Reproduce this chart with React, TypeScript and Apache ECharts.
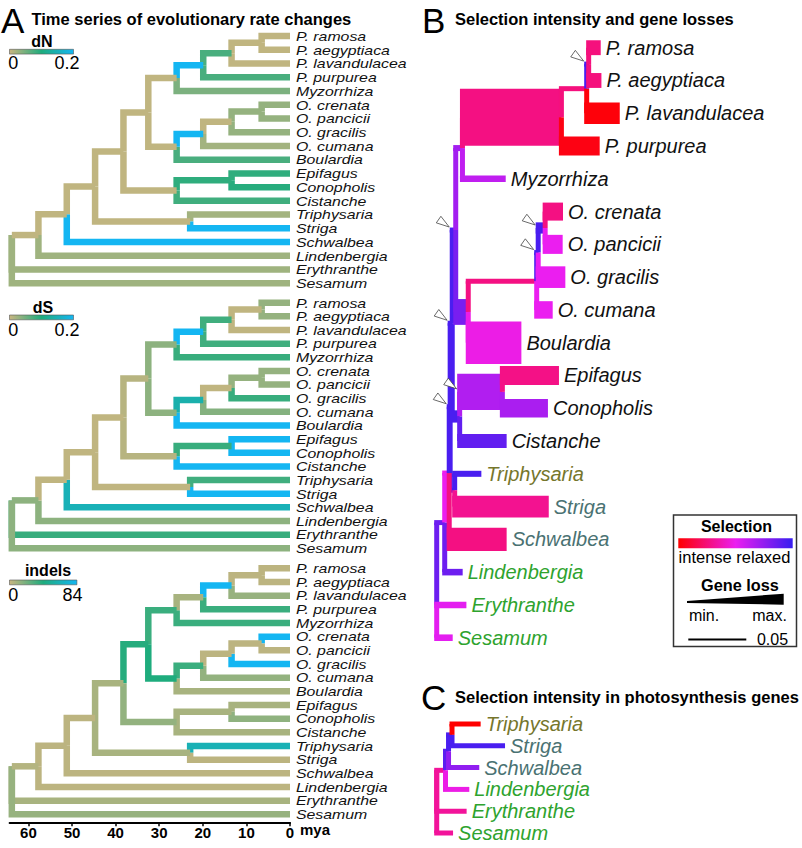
import React, { useEffect, useRef } from "react";
import * as echarts from "echarts";

const FONT = "'Liberation Sans', Arial, Helvetica, sans-serif";

// ---------------- Panel A : time tree ----------------
const leafNames = [
  "P. ramosa", "P. aegyptiaca", "P. lavandulacea", "P. purpurea", "Myzorrhiza",
  "O. crenata", "O. pancicii", "O. gracilis", "O. cumana", "Boulardia",
  "Epifagus", "Conopholis", "Cistanche", "Triphysaria", "Striga",
  "Schwalbea", "Lindenbergia", "Erythranthe", "Sesamum",
];
const cladeNames = [
  "n1", "n2", "n3", "n4", "n5", "n6", "n7", "n8", "n9",
  "n10", "n11", "n12", "n13", "n14", "n15", "n16", "root",
];
const cladeChildren = [
  ["P. ramosa", "P. aegyptiaca"],
  ["n1", "P. lavandulacea"],
  ["n2", "P. purpurea"],
  ["n3", "Myzorrhiza"],
  ["O. crenata", "O. pancicii"],
  ["n5", "O. gracilis"],
  ["n6", "O. cumana"],
  ["n7", "Boulardia"],
  ["n4", "n8"],
  ["Epifagus", "Conopholis"],
  ["n10", "Cistanche"],
  ["n9", "n11"],
  ["Triphysaria", "Striga"],
  ["n12", "n13"],
  ["n14", "Schwalbea"],
  ["n15", "Lindenbergia"],
  ["n16", "Erythranthe", "Sesamum"],
];
const cladeAgesMya = [6.5, 13.4, 19.9, 26.0, 6.5, 13.4, 19.9, 26.0, 32.5, 13.4, 26.0, 38.2, 22.9, 44.7, 51.2, 57.7, 63.8];
const timeAxisMaxMya = 64.3;

// branch values, order: 19 leaves then n1..n16
const dNValues = [
  0.005, 0.005, 0.005, 0.075, 0.045,
  0.03, 0.03, 0.03, 0.022, 0.075,
  0.09, 0.095, 0.08, 0.022, 0.2,
  0.2, 0.024, 0.024, 0.024,
  0.005, 0.075, 0.2, 0.005,
  0.03, 0.005, 0.2, 0.005,
  0.005, 0.09, 0.005, 0.005,
  0.005, 0.005, 0.005, 0.005,
];
const dSValues = [
  0.03, 0.03, 0.005, 0.08, 0.085,
  0.03, 0.03, 0.085, 0.04, 0.2,
  0.2, 0.2, 0.2, 0.08, 0.2,
  0.15, 0.035, 0.085, 0.035,
  0.005, 0.08, 0.2, 0.035,
  0.03, 0.005, 0.14, 0.035,
  0.01, 0.085, 0.01, 0.005,
  0.005, 0.005, 0.005, 0.035,
];
const indelValues = [
  3, 3, 12, 35, 35,
  84, 3, 84, 13, 8,
  8, 14, 8, 62, 3,
  3, 3, 8, 12,
  3, 84, 8, 35,
  3, 3, 35, 42,
  40, 8, 13, 8,
  8, 3, 3, 5,
];
const rateNames = ["dN", "dS", "indels"];
const rateMax = [0.2, 0.2, 84];
const rateLegendTicks = [["0", "0.2"], ["0", "0.2"], ["0", "84"]];

// ---------------- Panel B : selection & gene loss ----------------
const bDepths = [
  0.1414, 0.142, 0.1578, 0.1405, 0.0595,
  0.1089, 0.1086, 0.1109, 0.1, 0.073,
  0.1054, 0.0959, 0.0603, 0.0385, 0.0966,
  0.0603, 0.0224, 0.0256, 0.0138,
  0.131, 0.1293, 0.1075, 0.0222,
  0.0935, 0.0875, 0.0862, 0.0272,
  0.0164, 0.0566, 0.0198, 0.0134,
  0.0155, 0.0116, 0.0108, 0.0069,
];
const bSelection = [
  0.26, 0.26, 0.02, 0.04, 0.62,
  0.27, 0.5, 0.5, 0.5, 0.48,
  0.28, 0.68, 0.88, 0.95, 0.3,
  0.27, 0.85, 0.52, 0.52,
  0.95, 0.26, 0.27, 0.7,
  0.95, 0.95, 0.27, 0.82,
  0.95, 0.66, 0.95, 0.95,
  0.95, 0.95, 0.5, 0.85,
];
const bGeneLoss = [
  19, 19, 32, 27, 3,
  25, 27, 32, 24, 72,
  27, 26, 17, 2, 32,
  35, 3, 3, 3,
  0, 0, 100, 2,
  12, 0, 0, 40,
  0, 60, 14, 0,
  0, 0, 0, 0,
];
const bShiftBranches = ["n1", "n5", "n6", "n9", "n10", "n12", "n14"];
const bLabelColors = [
  "#111", "#111", "#111", "#111", "#111",
  "#111", "#111", "#111", "#111", "#111",
  "#111", "#111", "#111", "#76762c", "#4a7272",
  "#4a7272", "#2ea32e", "#2ea32e", "#2ea32e",
];

// ---------------- Panel C : photosynthesis genes ----------------
const cLeafNames = ["Triphysaria", "Striga", "Schwalbea", "Lindenbergia", "Erythranthe", "Sesamum"];
const cCladeNames = ["c1", "c2", "c3", "cRoot"];
const cCladeChildren = [
  ["Triphysaria", "Striga"],
  ["c1", "Schwalbea"],
  ["c2", "Lindenbergia"],
  ["c3", "Erythranthe", "Sesamum"],
];
const cDepths = [0.0379, 0.0589, 0.0367, 0.0281, 0.0258, 0.0141, 0.0132, 0.0102, 0.0076];
const cSelection = [0.0, 0.95, 0.75, 0.48, 0.32, 0.32, 0.95, 0.9, 0.32];
const cLabelColors = ["#76762c", "#4a7272", "#4a7272", "#2ea32e", "#2ea32e", "#2ea32e"];

// ---------------- colour maps ----------------
const rateStops: [number, number[]][] = [[0, [200, 181, 128]], [0.5, [30, 172, 125]], [1, [20, 182, 242]]];
const selStops: [number, number[]][] = [[0, [255, 0, 0]], [0.5, [235, 30, 240]], [1, [55, 30, 240]]];

function cmap(stops: [number, number[]][], t: number) {
  const v = Math.max(0, Math.min(1, t));
  for (let i = 1; i < stops.length; i++) {
    if (v <= stops[i][0]) {
      const [t0, c0] = stops[i - 1];
      const [t1, c1] = stops[i];
      const f = (v - t0) / (t1 - t0);
      const c = c0.map((a, k) => Math.round(a + (c1[k] - a) * f));
      return `rgb(${c[0]},${c[1]},${c[2]})`;
    }
  }
  const c = stops[stops.length - 1][1];
  return `rgb(${c[0]},${c[1]},${c[2]})`;
}
function gradient(stops: [number, number[]][]) {
  return new echarts.graphic.LinearGradient(0, 0, 1, 0,
    stops.map(([o, c]) => ({ offset: o, color: `rgb(${c[0]},${c[1]},${c[2]})` })));
}

function layoutTree(leaves: string[], clades: string[], children: string[][], rootYChild: number) {
  const y: Record<string, number> = {};
  const parent: Record<string, string> = {};
  leaves.forEach((n, i) => (y[n] = i));
  clades.forEach((c, i) => {
    const ys = children[i].map((ch) => y[ch]);
    children[i].forEach((ch) => (parent[ch] = c));
    y[c] = i === clades.length - 1 ? ys[rootYChild] : (Math.min(...ys) + Math.max(...ys)) / 2;
  });
  return { y, parent };
}

// layout constants (pixels)
const A_PX_PER_MYA = 4.36;
const A_RIGHT = 290;
const A_TOPS = [36, 302.7, 568.3];
const A_HEIGHTS = [247.3, 245.6, 246];
const B_PX_PER_UNIT = 1160;
const B_MAX = 0.2;
const B_LEFT = 436.7;
const VW = 5;
const LOSS_PX = 0.52;

export default function App() {
  const ref = useRef<HTMLDivElement>(null);
  useEffect(() => {
    if (!ref.current) return;
    const chart = echarts.init(ref.current, undefined, { renderer: "svg" });

    // ---- panel A data
    const branchOrder = [...leafNames, ...cladeNames.slice(0, -1)];
    const A = layoutTree(leafNames, cladeNames, cladeChildren, 0);
    const ageOf: Record<string, number> = {};
    leafNames.forEach((n) => (ageOf[n] = 0));
    cladeNames.forEach((c, i) => (ageOf[c] = cladeAgesMya[i]));
    const aSets = [dNValues, dSValues, indelValues];
    const aData = aSets.map((vals) =>
      branchOrder.map((n, i) => {
        const p = A.parent[n];
        return [ageOf[p], A.y[p], ageOf[n], A.y[n], vals[i], i < leafNames.length ? i : -1];
      })
    );

    // ---- panel B data
    const B = layoutTree(leafNames, cladeNames, cladeChildren, 1);
    const depthB: Record<string, number> = { root: 0 };
    branchOrder.forEach((n, i) => (depthB[n] = bDepths[i]));
    const bData = branchOrder
      .map((n, i) => {
        const p = B.parent[n];
        return [depthB[p], B.y[p], depthB[n], B.y[n], bSelection[i], bGeneLoss[i], i < leafNames.length ? i : -1];
      })
      .sort((a, b) => a[2] - b[2]);
    const bArrowData = bShiftBranches.map((n) => {
      const p = B.parent[n];
      return [depthB[p], B.y[n]];
    });

    // ---- panel C data
    const C = layoutTree(cLeafNames, cCladeNames, cCladeChildren, 0);
    const cOrder = [...cLeafNames, ...cCladeNames.slice(0, -1)];
    const depthC: Record<string, number> = { cRoot: 0 };
    cOrder.forEach((n, i) => (depthC[n] = cDepths[i]));
    const cData = cOrder
      .map((n, i) => {
        const p = C.parent[n];
        return [depthC[p], C.y[p], depthC[n], C.y[n], cSelection[i], 0, i < cLeafNames.length ? i : -1];
      })
      .sort((a, b) => a[2] - b[2]);

    const aWidth = timeAxisMaxMya * A_PX_PER_MYA;
    const grids: any[] = A_TOPS.map((t, k) => ({ left: A_RIGHT - aWidth, width: aWidth, top: t, height: A_HEIGHTS[k] }));
    grids.push({ left: B_LEFT, width: B_MAX * B_PX_PER_UNIT, top: 47.7, height: 590 });
    grids.push({ left: B_LEFT, width: B_MAX * B_PX_PER_UNIT, top: 724, height: 109 });

    const xAxes: any[] = A_TOPS.map((_, k) => ({
      gridIndex: k, type: "value", min: 0, max: timeAxisMaxMya, inverse: true, interval: 10,
      show: k === 2, offset: 8,
      axisLine: { show: true, onZero: false, lineStyle: { color: "#000", width: 2 } },
      axisTick: { show: true, length: 4, lineStyle: { color: "#000", width: 1.5 } },
      axisLabel: {
        show: true, margin: 3, color: "#000", fontSize: 15, fontWeight: "bold", fontFamily: FONT,
        showMaxLabel: false, formatter: (v: number) => (v % 10 === 0 ? String(v) : ""),
      },
      splitLine: { show: false },
    }));
    xAxes.push({ gridIndex: 3, type: "value", min: 0, max: B_MAX, show: false });
    xAxes.push({ gridIndex: 4, type: "value", min: 0, max: B_MAX, show: false });
    const yAxes: any[] = [0, 1, 2].map((k) => ({ gridIndex: k, type: "value", min: 0, max: 18, inverse: true, show: false }));
    yAxes.push({ gridIndex: 3, type: "value", min: 0, max: 18, inverse: true, show: false });
    yAxes.push({ gridIndex: 4, type: "value", min: 0, max: 5, inverse: true, show: false });

    const aSeries = aData.map((data, k) => ({
      type: "custom", xAxisIndex: k, yAxisIndex: k, data, silent: true, clip: false,
      renderItem: (_p: any, api: any) => {
        const p = api.coord([api.value(0), api.value(1)]);
        const c = api.coord([api.value(2), api.value(3)]);
        const color = cmap(rateStops, api.value(4) / rateMax[k]);
        const pts: number[][] = [[p[0], p[1]]];
        if (Math.abs(p[1] - c[1]) > 0.01) pts.push([p[0], c[1]]);
        pts.push([c[0], c[1]]);
        const children: any[] = [{
          type: "polyline", shape: { points: pts },
          style: { stroke: color, lineWidth: 6.5, fill: "none", lineJoin: "miter", lineCap: "butt" },
        }];
        const li = api.value(5);
        if (li >= 0) {
          children.push({
            type: "text", x: c[0] + 6, y: c[1] + 0.5, scaleX: 1.3, scaleY: 1,
            style: { text: leafNames[li], fill: "#111", fontSize: 12.2, fontStyle: "italic", fontFamily: FONT, align: "left", verticalAlign: "middle" },
          });
        }
        return { type: "group", children };
      },
    }));

    const boxRender = (names: string[], colors: string[], fs: number) => (_p: any, api: any) => {
      const p = api.coord([api.value(0), api.value(1)]);
      const c = api.coord([api.value(2), api.value(3)]);
      const color = cmap(selStops, api.value(4));
      const h = VW + LOSS_PX * api.value(5);
      const top = Math.min(p[1], c[1]);
      const bot = Math.max(p[1], c[1]);
      const children: any[] = [
        { type: "rect", shape: { x: p[0] - VW / 2, y: top, width: VW, height: bot - top }, style: { fill: color } },
        { type: "rect", shape: { x: p[0] - VW / 2, y: c[1] - h / 2, width: c[0] - p[0] + VW / 2, height: h }, style: { fill: color } },
      ];
      const li = api.value(6);
      if (li >= 0) {
        children.push({
          type: "text", x: c[0] + 5, y: c[1],
          style: { text: names[li], fill: colors[li], fontSize: fs, fontStyle: "italic", fontFamily: FONT, align: "left", verticalAlign: "middle" },
        });
      }
      return { type: "group", children };
    };

    const ang = (35 * Math.PI) / 180;
    const dir = [Math.cos(ang), Math.sin(ang)];
    const perp = [-Math.sin(ang), Math.cos(ang)];
    const arrowSeries = {
      type: "custom", xAxisIndex: 3, yAxisIndex: 3, data: bArrowData, silent: true, clip: false, z: 5,
      renderItem: (_p: any, api: any) => {
        const q = api.coord([api.value(0), api.value(1)]);
        const T = [q[0] - 3, q[1] - 3];
        const Bc = [T[0] - 13 * dir[0], T[1] - 13 * dir[1]];
        return {
          type: "polygon",
          shape: { points: [T, [Bc[0] + 4 * perp[0], Bc[1] + 4 * perp[1]], [Bc[0] - 4 * perp[0], Bc[1] - 4 * perp[1]]] },
          style: { fill: "#fff", stroke: "#444", lineWidth: 0.8 },
        };
      },
    };

    const txt = (text: string, x: number, y: number, size: number, weight = "normal", align = "left", extra: any = {}) => ({
      type: "text", x, y, z: 10,
      style: { text, fontSize: size, fontWeight: weight, fontFamily: FONT, fill: "#000", align, verticalAlign: "middle", ...extra },
    });

    const legendY = [[41, 49.3, 63], [307, 315, 330], [570, 580, 595]];
    const legendNameX = [42, 43, 48];
    const legendBarW = [64, 64, 67.4];
    const legendHiX = [67, 67, 72.5];
    const graphics: any[] = [
      txt("A", 1, 20.5, 35),
      txt("Time series of evolutionary rate changes", 31.5, 18.5, 16.5, "bold"),
      txt("B", 422, 20, 35),
      txt("Selection intensity and gene losses", 455, 18.5, 16.5, "bold"),
      txt("C", 421, 697.5, 35),
      txt("Selection intensity in photosynthesis genes", 455, 697, 16.5, "bold"),
      txt("mya", 300, 829.5, 15, "bold"),
    ];
    rateNames.forEach((nm, k) => {
      graphics.push(txt(nm, legendNameX[k], legendY[k][0], 16, "bold", "center"));
      graphics.push({
        type: "rect", z: 10, shape: { x: 9.5, y: legendY[k][1], width: legendBarW[k], height: 4.8 },
        style: { fill: gradient(rateStops), stroke: "#555", lineWidth: 0.6 },
      });
      graphics.push(txt(rateLegendTicks[k][0], 13.3, legendY[k][2], 18, "normal", "center"));
      graphics.push(txt(rateLegendTicks[k][1], legendHiX[k], legendY[k][2], 18, "normal", "center"));
    });
    // selection legend box
    const barLen = 0.05 * B_PX_PER_UNIT;
    graphics.push(
      { type: "rect", z: 9, shape: { x: 673.5, y: 515, width: 123, height: 131.5 }, style: { fill: "#fff", stroke: "#333", lineWidth: 1.5 } },
      txt("Selection", 736.5, 526, 16, "bold", "center"),
      { type: "rect", z: 10, shape: { x: 678.3, y: 538.3, width: 114.4, height: 10 }, style: { fill: gradient(selStops) } },
      txt("intense relaxed", 734.5, 556.7, 16.5, "normal", "center"),
      txt("Gene loss", 740, 585, 16.3, "bold", "center"),
      { type: "polygon", z: 10, shape: { points: [[687, 601], [783.7, 593.7], [783.7, 604.7], [687, 603]] }, style: { fill: "#000" } },
      txt("min.", 704, 615, 16, "normal", "center"),
      txt("max.", 769.5, 615, 16, "normal", "center"),
      { type: "line", z: 10, shape: { x1: 688.3, y1: 639.4, x2: 688.3 + barLen, y2: 639.4 }, style: { stroke: "#000", lineWidth: 2 } },
      txt("0.05", 772.5, 639.5, 16, "normal", "center"),
    );

    chart.setOption({
      animation: false,
      backgroundColor: "#fff",
      grid: grids,
      xAxis: xAxes,
      yAxis: yAxes,
      series: [
        ...aSeries,
        { type: "custom", xAxisIndex: 3, yAxisIndex: 3, data: bData, silent: true, clip: false, renderItem: boxRender(leafNames, bLabelColors, 20) },
        arrowSeries,
        { type: "custom", xAxisIndex: 4, yAxisIndex: 4, data: cData, silent: true, clip: false, renderItem: boxRender(cLeafNames, cLabelColors, 20) },
      ],
      graphic: graphics,
    });
    return () => chart.dispose();
  }, []);
  return <div ref={ref} style={{ position: "fixed", left: 0, top: 0, width: 802, height: 848, background: "#fff" }} />;
}
